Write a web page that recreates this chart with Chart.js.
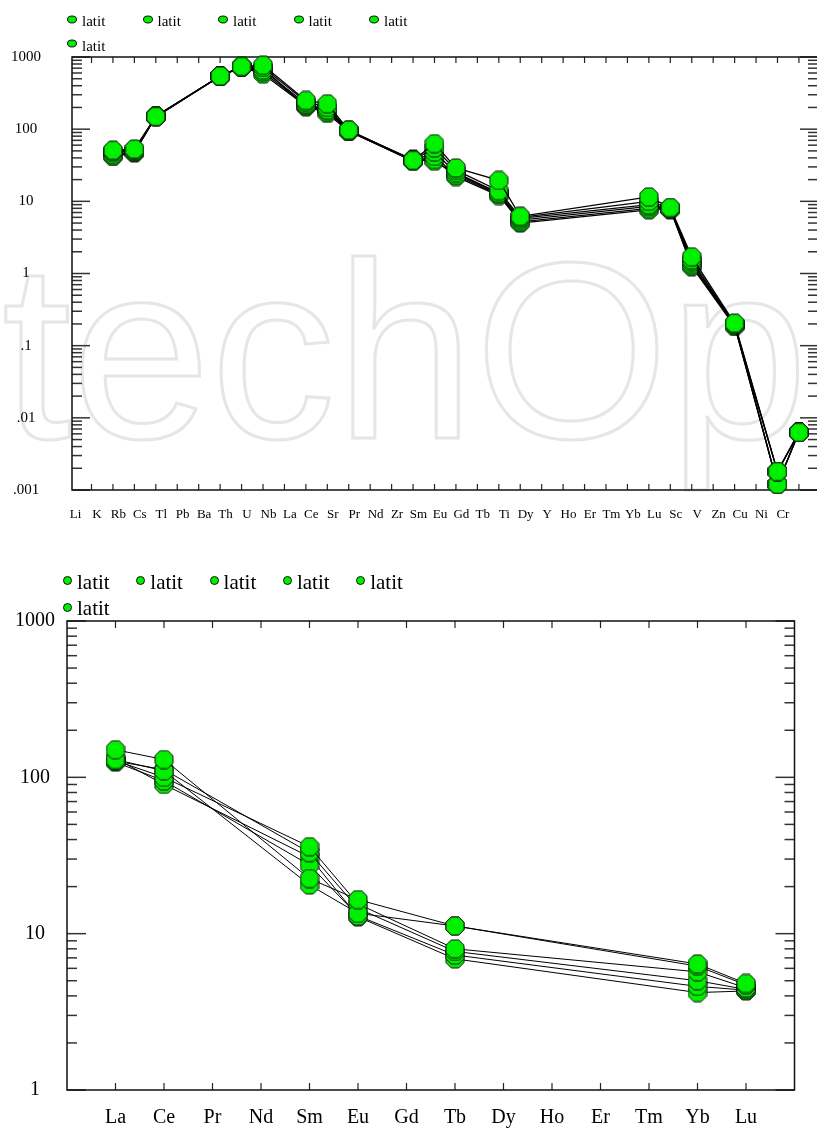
<!DOCTYPE html>
<html>
<head>
<meta charset="utf-8">
<script src="https://cdn.jsdelivr.net/npm/chart.js@4.4.0/dist/chart.umd.min.js"></script>
<style>
    html, body { margin: 0; padding: 0; background: #fff; overflow: hidden; }
    body { width: 817px; height: 1129px; position: relative; font-family: 'Liberation Serif', 'Times New Roman', serif; }
    canvas { position: absolute; left: 0; }
    #topChart { top: 0; }
    #bottomChart { top: 560px; }
    .legend { position: absolute; display: flex; flex-wrap: wrap; color: #000; }
    .legend .item { display: flex; align-items: center; white-space: nowrap; }
    .legend .mk { display: inline-block; background: #00f000; border: 1px solid #111; box-sizing: border-box; border-radius: 50%; }
    #topLegend { left: 67px; top: 9.4px; width: 378px; font-size: 15px; line-height: 24.5px; }
    #topLegend .item { width: 75.5px; }
    #topLegend .mk { width: 10px; height: 8px; margin-right: 5px; transform: translateY(-2.6px); }
    #bottomLegend { left: 63px; top: 568.7px; width: 367px; font-size: 21px; line-height: 26.5px; }
    #bottomLegend .item { width: 73.3px; }
    #bottomLegend .mk { width: 9px; height: 9px; margin-right: 5px; transform: translateY(-1px); }
</style>
</head>
<body>
<canvas id="topChart" width="830" height="545"></canvas>
<canvas id="bottomChart" width="817" height="569"></canvas>
<div id="topLegend" class="legend"></div>
<div id="bottomLegend" class="legend"></div>
<script>
// spider diagram 1 (normalised trace elements)
const topCategories = ['Li', 'K', 'Rb', 'Cs', 'Tl', 'Pb', 'Ba', 'Th', 'U', 'Nb', 'La', 'Ce', 'Sr', 'Pr', 'Nd', 'Zr',
    'Sm', 'Eu', 'Gd', 'Tb', 'Ti', 'Dy', 'Y', 'Ho', 'Er', 'Tm', 'Yb', 'Lu', 'Sc', 'V', 'Zn', 'Cu', 'Ni', 'Cr'];
const topElements = ['K', 'Rb', 'Cs', 'Ba', 'Th', 'U', 'La', 'Ce', 'Sr', 'Zr', 'Sm', 'Eu', 'Tb', 'Ti', 'Yb', 'Lu', 'Sc', 'Zn', 'Ni', 'Cr'];
const topLatit1 = [51, 53, 150, 545, 740, 770, 250, 225, 97, 37, 63, 29, 19.5, 6.2, 11.5, 8.2, 1.7, 0.205, 0.0018, 0.0063];
const topLatit2 = [50, 52, 148, 540, 735, 720, 240, 200, 96, 37, 55, 27, 14, 6.0, 10, 8.0, 1.55, 0.2, 0.0018, 0.0063];
const topLatit3 = [48, 50, 150, 545, 730, 660, 225, 185, 95, 36, 48, 25, 13, 5.8, 9, 7.9, 1.45, 0.195, 0.0012, 0.0063];
const topLatit4 = [45, 49, 152, 540, 725, 620, 215, 175, 94, 36, 42, 23, 12.5, 5.5, 8.5, 7.8, 1.35, 0.19, 0.0012, 0.0063];
const topLatit5 = [43, 48, 150, 545, 730, 580, 210, 165, 93, 37, 38, 22, 12, 5.2, 8, 7.7, 1.28, 0.2, 0.0012, 0.0063];
const topLatit6 = [42, 47, 149, 540, 735, 700, 205, 190, 95, 38, 36, 24, 13, 5.0, 7.6, 7.9, 1.25, 0.185, 0.0018, 0.0063];
const topYTicks = [0.001, 0.01, 0.1, 1, 10, 100, 1000];
const topYLabels = ['.001', '.01', '.1', '1', '10', '100', '1000'];

// spider diagram 2 (REE)
const bottomCategories = ['La', 'Ce', 'Pr', 'Nd', 'Sm', 'Eu', 'Gd', 'Tb', 'Dy', 'Ho', 'Er', 'Tm', 'Yb', 'Lu'];
const bottomElements = ['La', 'Ce', 'Sm', 'Eu', 'Tb', 'Yb', 'Lu'];
const bottomLatit1 = [150, 130, 22.5, 16.5, 11.2, 6.4, 4.8];
const bottomLatit2 = [130, 110, 20.5, 13.5, 11.2, 6.2, 4.7];
const bottomLatit3 = [128, 100, 36, 15.5, 8.0, 5.7, 4.5];
const bottomLatit4 = [127, 112, 33, 14.5, 7.7, 5.0, 4.4];
const bottomLatit5 = [125, 95, 27.5, 13.0, 7.3, 4.6, 4.35];
const bottomLatit6 = [132, 90, 31, 12.8, 6.9, 4.2, 4.3];
const bottomYTicks = [1, 10, 100, 1000];
const bottomYLabels = ['1', '10', '100', '1000'];

const seriesNames = ['latit', 'latit', 'latit', 'latit', 'latit', 'latit'];

const GREEN = '#00f000';
const FONT = "'Liberation Serif', 'Times New Roman', serif";

function octagon(size) {
    const c = document.createElement('canvas');
    c.width = c.height = size + 2;
    const g = c.getContext('2d');
    const r = size / 2 / Math.cos(Math.PI / 8);
    const mid = c.width / 2;
    g.beginPath();
    for (let k = 0; k < 8; k++) {
        const a = Math.PI / 8 + k * Math.PI / 4;
        g.lineTo(mid + r * Math.cos(a), mid + r * Math.sin(a));
    }
    g.closePath();
    g.fillStyle = GREEN;
    g.fill();
    g.strokeStyle = '#111';
    g.lineWidth = 1;
    g.stroke();
    return c;
}

function toPoints(categories, elements, values) {
    return elements.map((el, i) => ({ x: categories.indexOf(el) + 1, y: values[i] }));
}

function buildLegend(id) {
    const box = document.getElementById(id);
    box.innerHTML = seriesNames.map(n => `<span class="item"><span class="mk"></span>${n}</span>`).join('');
}

// frame with inward ticks on all four sides
const frameTicks = {
    id: 'frameTicks',
    beforeDatasetsDraw(chart, args, o) {
        const { ctx, chartArea: a, scales: { x, y } } = chart;
        const seg = (x1, y1, x2, y2) => { ctx.beginPath(); ctx.moveTo(x1, y1); ctx.lineTo(x2, y2); ctx.stroke(); };
        ctx.save();
        ctx.strokeStyle = '#222';
        ctx.lineWidth = 1.2;
        x.ticks.forEach(t => {
            const px = x.getPixelForValue(t.value);
            seg(px, a.bottom, px, a.bottom - o.xTick);
            seg(px, a.top, px, a.top + o.xTick);
        });
        ctx.strokeStyle = '#333';
        ctx.lineWidth = 1.5;
        const lo = Math.round(Math.log10(y.min));
        const hi = Math.round(Math.log10(y.max));
        for (let e = lo; e <= hi; e++) {
            for (let m = 1; m < 10; m++) {
                if (e === hi && m > 1) break;
                const py = y.getPixelForValue(m * Math.pow(10, e));
                const len = m === 1 ? o.major : o.minor;
                seg(a.left, py, a.left + len, py);
                seg(a.right, py, a.right - len, py);
            }
        }
        ctx.strokeStyle = '#111';
        ctx.lineWidth = 1.5;
        ctx.strokeRect(a.left, a.top, a.right - a.left, a.bottom - a.top);
        ctx.restore();
    }
};

// faint publisher watermark behind the top plot
const watermark = {
    id: 'watermark',
    beforeDraw(chart) {
        const ctx = chart.ctx;
        ctx.save();
        ctx.font = "250px 'Liberation Sans', Arial, sans-serif";
        ctx.strokeStyle = '#e6e6e6';
        ctx.lineWidth = 3;
        ctx.textBaseline = 'alphabetic';
        ctx.strokeText('techOpen', 2, 438);
        ctx.restore();
    }
};

function spiderChart(canvasId, cfg) {
    const marker = octagon(18);
    const datasets = cfg.series.map((vals, i) => ({
        label: seriesNames[i],
        data: toPoints(cfg.categories, cfg.elements, vals),
        borderColor: '#000',
        borderWidth: cfg.lineWidth,
        pointStyle: marker,
        pointRadius: 9,
        tension: 0,
        fill: false,
        clip: false
    }));
    return new Chart(document.getElementById(canvasId), {
        type: 'line',
        data: { datasets },
        plugins: cfg.plugins,
        options: {
            responsive: false,
            animation: false,
            events: [],
            layout: { padding: cfg.padding },
            plugins: {
                legend: { display: false },
                tooltip: { enabled: false },
                frameTicks: cfg.ticks
            },
            scales: {
                x: {
                    type: 'linear',
                    min: cfg.xMin,
                    max: cfg.xMax,
                    grid: { display: false, drawTicks: false },
                    border: { display: false },
                    afterBuildTicks: s => { s.ticks = cfg.categories.map((c, i) => ({ value: i + 1 })); },
                    afterFit: s => { s.height = cfg.xHeight; },
                    ticks: {
                        autoSkip: false,
                        maxRotation: 0,
                        padding: cfg.xPad,
                        labelOffset: cfg.xLabelOffset,
                        color: '#000',
                        font: { family: FONT, size: cfg.xFont },
                        callback: v => cfg.categories[v - 1]
                    }
                },
                y: {
                    type: 'logarithmic',
                    min: cfg.yTicks[0],
                    max: cfg.yTicks[cfg.yTicks.length - 1],
                    grid: { display: false, drawTicks: false },
                    border: { display: false },
                    afterBuildTicks: s => { s.ticks = cfg.yTicks.map(v => ({ value: v, major: true })); },
                    afterFit: s => { s.width = cfg.yWidth; },
                    ticks: {
                        autoSkip: false,
                        crossAlign: 'center',
                        padding: cfg.yPad,
                        color: '#000',
                        font: { family: FONT, size: cfg.yFont },
                        callback: (v, i) => cfg.yLabels[i]
                    }
                }
            }
        }
    });
}

spiderChart('topChart', {
    categories: topCategories,
    elements: topElements,
    series: [topLatit1, topLatit2, topLatit3, topLatit4, topLatit5, topLatit6],
    yTicks: topYTicks,
    yLabels: topYLabels,
    xMin: 0.09, xMax: 34.89,
    padding: { top: 57, right: 12, left: 0, bottom: 0 },
    xHeight: 55, yWidth: 72,
    xPad: 17, xLabelOffset: -16, xFont: 13,
    yPad: 31, yFont: 15,
    lineWidth: 1.3,
    ticks: { xTick: 6, major: 18, minor: 10 },
    plugins: [watermark, frameTicks]
});

spiderChart('bottomChart', {
    categories: bottomCategories,
    elements: bottomElements,
    series: [bottomLatit1, bottomLatit2, bottomLatit3, bottomLatit4, bottomLatit5, bottomLatit6],
    yTicks: bottomYTicks,
    yLabels: bottomYLabels,
    xMin: 0, xMax: 15,
    padding: { top: 61, right: 22.5, left: 0, bottom: 0 },
    xHeight: 39, yWidth: 67,
    xPad: 16, xLabelOffset: 0, xFont: 20,
    yPad: 12, yFont: 20,
    lineWidth: 1,
    ticks: { xTick: 7, major: 19, minor: 10 },
    plugins: [frameTicks]
});

buildLegend('topLegend');
buildLegend('bottomLegend');
</script>
</body>
</html>
